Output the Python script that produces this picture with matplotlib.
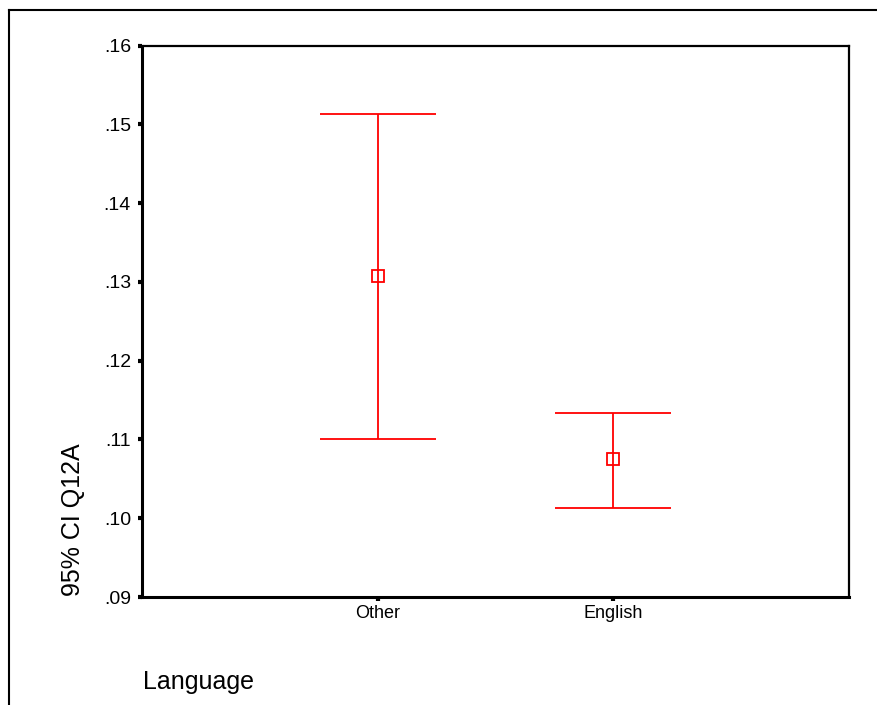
import matplotlib
matplotlib.use("Agg")
import matplotlib.pyplot as plt
from matplotlib.lines import Line2D

plt.rcParams['font.family'] = ['Liberation Sans', 'DejaVu Sans']

categories = ["Other", "English"]
means = [0.1307, 0.1075]
lower = [0.1100, 0.1013]
upper = [0.1513, 0.1134]
yticks = [0.09, 0.10, 0.11, 0.12, 0.13, 0.14, 0.15, 0.16]
ytick_labels = [".09", ".10", ".11", ".12", ".13", ".14", ".15", ".16"]

fig = plt.figure(figsize=(8.78, 7.05), dpi=100)
ax = fig.add_axes([142/878, 1-597/705, (849-142)/878, (597-45.7)/705])

red = "#ff0000"
xpos = list(range(1, len(categories) + 1))
for x, m, lo, hi in zip(xpos, means, lower, upper):
    ax.errorbar([x], [m], yerr=[[m - lo], [hi - m]], fmt='s', color=red,
                ecolor=red, elinewidth=1.3, capsize=42, capthick=1.3,
                markersize=8, markerfacecolor='none', markeredgecolor=red,
                markeredgewidth=1.3)

ax.set_xlim(0, len(categories) + 1)
ax.set_ylim(0.09, 0.16)
ax.set_xticks(xpos)
ax.set_xticklabels(categories)
ax.set_yticks(yticks)
ax.set_yticklabels(ytick_labels)
ax.tick_params(axis='both', direction='out', length=3, width=3, color='black')
ax.tick_params(axis='y', pad=5, labelsize=14)
ax.tick_params(axis='x', pad=3, labelsize=13)
for s in ['left', 'bottom']:
    ax.spines[s].set_linewidth(2.2)
for s in ['top', 'right']:
    ax.spines[s].set_linewidth(1.6)

fig.text(73/878, 1-520/705, "95% CI Q12A", rotation=90, ha='center', va='center',
         fontsize=18)
fig.text(143/878, 1-682/705, "Language", ha='left', va='center', fontsize=18)

# outer frame (top and left edges)
fig.add_artist(Line2D([9/878, 1.0], [1-10/705, 1-10/705], transform=fig.transFigure,
                      color='black', linewidth=1.5))
fig.add_artist(Line2D([9/878, 9/878], [0, 1-10/705], transform=fig.transFigure,
                      color='black', linewidth=1.5))

fig.savefig("out.png", dpi=100)
